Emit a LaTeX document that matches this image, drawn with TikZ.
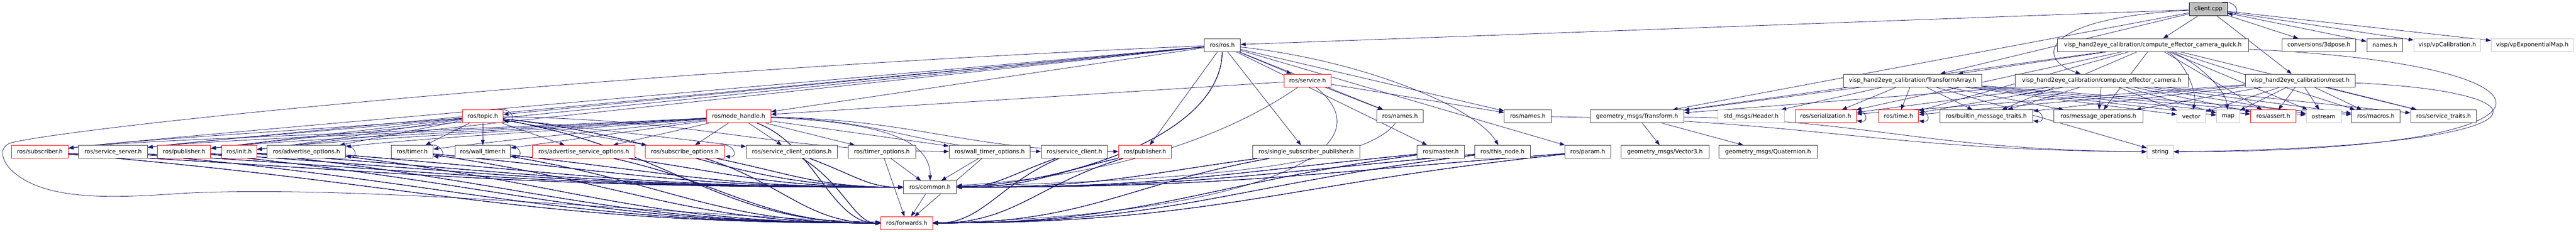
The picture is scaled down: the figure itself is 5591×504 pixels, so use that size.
\documentclass[tikz,border=0pt]{standalone}
\usepackage{fontspec}
\setmainfont{DejaVu Sans}
\usetikzlibrary{arrows.meta,backgrounds,calc}
\definecolor{edgeblue}{HTML}{191970}
\definecolor{boxgray}{HTML}{404040}
\definecolor{nodocgray}{HTML}{BFBFBF}
\tikzset{
  file/.style={draw=boxgray, fill=white, line width=1pt, minimum height=28pt,
    inner sep=0pt, font=\fontsize{12.5}{15}\selectfont},
  trunc/.style={file, draw=red},
  nodoc/.style={file, draw=nodocgray},
  mainfile/.style={file, draw=black, fill=nodocgray},
  inc/.style={draw=edgeblue, line width=0.9pt, -{Triangle[length=11pt,width=8pt]}}
}
% s-shaped include edge: #3, #4 lift the two control points
\newcommand\sbend[4]{\draw[inc] let \p1=(#1), \p2=(#2) in (#1)
  .. controls ({0.55*\x1+0.45*\x2},{\y1+(#3)}) and ({0.45*\x1+0.55*\x2},{\y2+(#4)}) .. (#2);}
\begin{document}
\begin{tikzpicture}[x=1pt, y=-1pt]
  \useasboundingbox (0,0) rectangle (5591,504);
  % rank 0 and 1
  \node[mainfile, minimum width=82pt] (client) at (4793,20) {client.cpp};
  \node[file, minimum width=78pt] (ros) at (2653,98) {ros/ros.h};
  \node[file, minimum width=415pt] (quick) at (4672.5,98) {visp\_hand2eye\_calibration/compute\_effector\_camera\_quick.h};
  \node[file, minimum width=160pt] (pose) at (5033,98) {conversions/3dpose.h};
  \node[file, minimum width=78pt] (namesh) at (5176,98) {names.h};
  \node[nodoc, minimum width=145pt] (vpcal) at (5311.5,98) {visp/vpCalibration.h};
  \node[nodoc, minimum width=178pt] (vpexp) at (5496,98) {visp/vpExponentialMap.h};
  % rank 2
  \node[trunc, minimum width=102pt] (service) at (2838,175) {ros/service.h};
  \node[file, minimum width=300pt] (tarray) at (4151,175) {visp\_hand2eye\_calibration/TransformArray.h};
  \node[file, minimum width=375pt] (cec) at (4561.5,175) {visp\_hand2eye\_calibration/compute\_effector\_camera.h};
  \node[file, minimum width=239pt] (reset) at (4992.5,175) {visp\_hand2eye\_calibration/reset.h};
  % rank 3
  \node[trunc, minimum width=88pt] (topic) at (1048,253) {ros/topic.h};
  \node[trunc, minimum width=140pt] (nodeh) at (1603,253) {ros/node\_handle.h};
  \node[file, minimum width=101pt] (namesa) at (3038.5,253) {ros/names.h};
  \node[file, minimum width=102pt] (namesb) at (3316,253) {ros/names.h};
  \node[file, minimum width=204pt] (transform) at (3553,253) {geometry\_msgs/Transform.h};
  \node[nodoc, minimum width=145pt] (header) at (3800.5,253) {std\_msgs/Header.h};
  \node[trunc, minimum width=133pt] (serial) at (3962.5,253) {ros/serialization.h};
  \node[trunc, minimum width=87pt] (time) at (4120.5,253) {ros/time.h};
  \node[file, minimum width=202pt] (bmt) at (4311,253) {ros/builtin\_message\_traits.h};
  \node[file, minimum width=193pt] (msgops) at (4554.5,253) {ros/message\_operations.h};
  \node[nodoc, minimum width=62pt] (vector) at (4756,253) {vector};
  \node[nodoc, minimum width=50pt] (map) at (4836,253) {map};
  \node[trunc, minimum width=98pt] (assert) at (4934,253) {ros/assert.h};
  \node[nodoc, minimum width=76pt] (ostream) at (5043,253) {ostream};
  \node[file, minimum width=105pt] (macros) at (5156.5,253) {ros/macros.h};
  \node[file, minimum width=143pt] (srvtraits) at (5303.5,253) {ros/service\_traits.h};
  % rank 4
  \node[trunc, minimum width=123pt] (subscriber) at (86.5,330) {ros/subscriber.h};
  \node[file, minimum width=149pt] (srvserver) at (245.5,330) {ros/service\_server.h};
  \node[trunc, minimum width=115pt] (pubA) at (399.5,330) {ros/publisher.h};
  \node[trunc, minimum width=76pt] (init) at (519,330) {ros/init.h};
  \node[file, minimum width=170pt] (advopts) at (665,330) {ros/advertise\_options.h};
  \node[file, minimum width=91pt] (timer) at (894.5,330) {ros/timer.h};
  \node[file, minimum width=120pt] (walltimer) at (1048,330) {ros/wall\_timer.h};
  \node[trunc, minimum width=222pt] (advsrvopts) at (1267,330) {ros/advertise\_service\_options.h};
  \node[trunc, minimum width=173pt] (subopts) at (1486.5,330) {ros/subscribe\_options.h};
  \node[file, minimum width=197pt] (srvclientopts) at (1718.5,330) {ros/service\_client\_options.h};
  \node[file, minimum width=146pt] (timeropts) at (1914,330) {ros/timer\_options.h};
  \node[file, minimum width=176pt] (walltimeropts) at (2148,330) {ros/wall\_timer\_options.h};
  \node[file, minimum width=144pt] (srvclient) at (2332,330) {ros/service\_client.h};
  \node[trunc, minimum width=114pt] (pubB) at (2485,330) {ros/publisher.h};
  \node[file, minimum width=232pt] (sspub) at (2835,330) {ros/single\_subscriber\_publisher.h};
  \node[file, minimum width=102pt] (master) at (3127,330) {ros/master.h};
  \node[file, minimum width=120pt] (thisnode) at (3261,330) {ros/this\_node.h};
  \node[file, minimum width=100pt] (param) at (3446,330) {ros/param.h};
  \node[file, minimum width=191pt] (vector3) at (3613.5,330) {geometry\_msgs/Vector3.h};
  \node[file, minimum width=213pt] (quat) at (3837.5,330) {geometry\_msgs/Quaternion.h};
  \node[nodoc, minimum width=57pt] (string) at (4688.5,330) {string};
  % rank 5 and 6
  \node[file, minimum width=115pt] (common) at (2018.5,407) {ros/common.h};
  \node[trunc, minimum width=112pt] (forwards) at (1968,485) {ros/forwards.h};

  \begin{scope}[on background layer]
    % straight includes
    \foreach \s/\t in {client/ros, client/quick, client/pose, client/namesh, client/vpcal,
        client/vpexp, client/reset, client/transform, client/tarray,
        quick/tarray, quick/transform, cec/transform, tarray/transform, tarray/header,
        transform/vector3, transform/quat, tarray/string,
        quick/srvtraits, cec/srvtraits, reset/srvtraits,
        ros/nodeh, ros/topic, ros/pubB, ros/service, ros/sspub, ros/namesa, ros/namesb,
        ros/master, ros/param, topic/advopts,
        topic/timer, topic/walltimer, topic/advsrvopts, topic/subopts, topic/srvclientopts,
        nodeh/advsrvopts, nodeh/walltimer, nodeh/subopts, nodeh/srvclientopts,
        nodeh/timeropts, nodeh/walltimeropts,
        service/nodeh, service/namesa, service/namesb,
        timeropts/common, timeropts/forwards, walltimeropts/common, walltimeropts/forwards,
        common/forwards}
      \draw[inc] (\s) -- (\t);
    \foreach \s in {quick, cec, reset, tarray}
      \foreach \t in {serial, time, bmt, msgops, assert, ostream, macros}
        \draw[inc] (\s) -- (\t);
    \foreach \s in {cec, reset, tarray}
      \foreach \t in {vector, map}
        \draw[inc] (\s) -- (\t);
    % long edges down to the left
    \foreach \s/\t in {ros/subscriber, ros/srvserver, ros/pubA, ros/init,
        topic/subscriber, topic/srvserver, topic/pubA, topic/init,
        nodeh/subscriber, nodeh/srvserver, nodeh/pubA, nodeh/init, nodeh/advopts, nodeh/timer}
      \draw[inc] (\s) .. controls ($(\s)!0.4!(\t)$) and ($(\t)+(220pt,28pt)$) .. (\t);
    % long edges to the right
    \foreach \s/\t in {nodeh/srvclient, nodeh/pubB, topic/walltimeropts, namesb/string, transform/string}
      \sbend{\s}{\t}{-8pt}{4pt}
    % down to common and forwards
    \foreach \s in {subscriber, srvserver, pubA, init, advopts, timer, walltimer,
        advsrvopts, subopts, srvclientopts, topic, srvclient, pubB, sspub, master, thisnode, param} {
      \sbend{\s}{common}{-50pt}{0pt}
      \sbend{\s}{forwards}{-70pt}{0pt}
    }
    \sbend{nodeh}{forwards}{-60pt}{0pt}
    % curved ones
    \draw[inc] (ros) .. controls (2650,300) and (2300,400) .. (common);
    \draw[inc] (ros) .. controls (2950,130) and (3200,230) .. (thisnode);
    \draw[inc] (nodeh) .. controls (1900,265) and (2020,300) .. (common);
    \draw[inc] (namesa) .. controls (2950,380) and (2400,395) .. (common);
    \draw[inc] (service) .. controls (2600,340) and (2300,390) .. (common);
    \draw[inc] (service) .. controls (3030,330) and (2700,470) .. (forwards);
    \draw[inc] (client) .. controls (4420,40) and (4420,130) .. (cec);
    \draw[inc] (quick) .. controls (4740,130) and (4770,200) .. (vector);
    \draw[inc] (quick) .. controls (4760,130) and (4830,190) .. (map);
    \draw[inc] (quick) .. controls (5620,140) and (5620,330) .. (string);
    \draw[inc] (reset) .. controls (5560,200) and (5560,320) .. (string);
    \draw[inc] (ros) .. controls (1400,150) and (200,270) .. (25,310)
      .. controls (0,318) and (0,340) .. (20,365)
      .. controls (90,440) and (250,430) .. (400,420)
      .. controls (800,400) and (1500,470) .. (forwards);
    % self includes
    \foreach \n in {client, topic, advopts, timer, walltimer, subopts, serial, time, bmt}
      \draw[inc] ([xshift=-12pt]\n.north east) .. controls +(32pt,6pt) and +(30pt,-4pt)
        .. ([yshift=5pt]\n.south east);
  \end{scope}
\end{tikzpicture}
\end{document}
